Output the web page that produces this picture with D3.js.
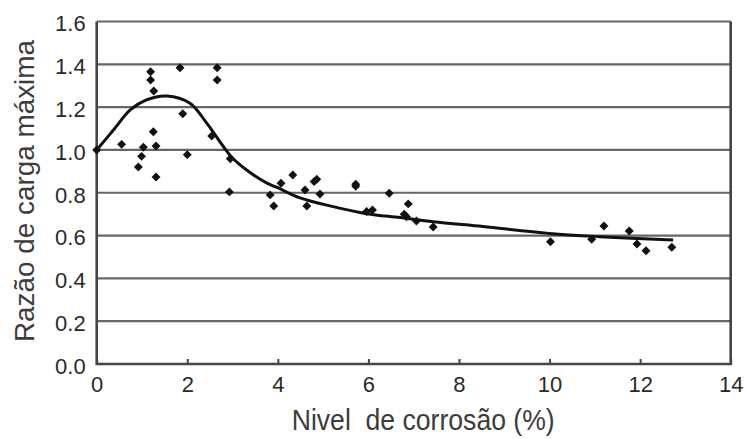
<!DOCTYPE html>
<html>
<head>
<meta charset="utf-8">
<script src="https://cdn.jsdelivr.net/npm/d3@7"></script>
<style>
  html, body { margin: 0; padding: 0; background: #fff; }
  svg { display: block; }
</style>
</head>
<body>
<svg id="chart" width="749" height="439"></svg>
<script>
// Measured specimens: corrosion level (%) and maximum-load ratio
const corrosion = [0, 0.55, 0.92, 0.99, 1.03, 1.19, 1.19, 1.26, 1.25, 1.31, 1.31,
  1.84, 1.90, 2.00, 2.54, 2.66, 2.66, 2.93, 2.95, 3.83, 3.91, 4.07, 4.33, 4.60,
  4.64, 4.80, 4.86, 4.93, 5.72, 5.72, 5.96, 6.09, 6.46, 6.79, 6.84, 6.88, 7.06,
  7.43, 10.02, 10.93, 11.20, 11.76, 11.93, 12.13, 12.70];
const loadRatio = [1.00, 1.026, 0.92, 0.97, 1.013, 1.365, 1.327, 1.275, 1.085, 1.018, 0.874,
  1.384, 1.169, 0.978, 1.065, 1.384, 1.327, 0.804, 0.959, 0.79, 0.738, 0.844, 0.883, 0.813,
  0.738, 0.852, 0.863, 0.794, 0.84, 0.83, 0.712, 0.72, 0.798, 0.70, 0.688, 0.748, 0.668,
  0.64, 0.571, 0.583, 0.645, 0.621, 0.561, 0.529, 0.545];

// Fitted trend curve
const trendX = [0, 0.37, 0.74, 1.1, 1.55, 2.06, 2.43, 2.8, 3.0, 3.31, 3.75, 3.97,
  4.49, 5.22, 5.96, 6.7, 7.43, 8.53, 10.0, 11.1, 12.73];
const trendY = [1.0, 1.093, 1.187, 1.234, 1.252, 1.218, 1.125, 1.015, 0.962, 0.906, 0.846, 0.826,
  0.776, 0.735, 0.702, 0.684, 0.665, 0.642, 0.61, 0.595, 0.579];

const xTicks = [0, 2, 4, 6, 8, 10, 12, 14];
const yTicks = [0, 0.2, 0.4, 0.6, 0.8, 1.0, 1.2, 1.4, 1.6];

const xTitle = "Nivel  de corrosão (%)";
const yTitle = "Razão de carga máxima";

const svg = d3.select("#chart");
const plot = { left: 96.7, right: 730.7, top: 21.5, bottom: 364 };

const x = d3.scaleLinear().domain([0, 14]).range([plot.left, plot.right]);
const y = d3.scaleLinear().domain([0, 1.6]).range([plot.bottom, plot.top]);

// Horizontal grid lines
svg.append("g")
  .selectAll("line")
  .data(yTicks.filter(v => v > 0))
  .join("line")
  .attr("x1", plot.left).attr("x2", plot.right)
  .attr("y1", d => y(d)).attr("y2", d => y(d))
  .attr("stroke", "#666")
  .attr("stroke-width", 2.2);

// Frame: left, bottom and right edges
svg.append("path")
  .attr("d", `M${plot.left},${plot.top} V${plot.bottom} H${plot.right} V${plot.top}`)
  .attr("fill", "none")
  .attr("stroke", "#454545")
  .attr("stroke-width", 2.6);

// X axis: inward ticks with labels underneath
const xAxis = d3.axisBottom(x)
  .tickValues(xTicks)
  .tickSize(-5)
  .tickPadding(12)
  .tickFormat(d3.format("d"));
const gx = svg.append("g")
  .attr("transform", `translate(0,${plot.bottom})`)
  .call(xAxis);
gx.select(".domain").remove();
gx.selectAll(".tick line").attr("stroke", "#454545").attr("stroke-width", 2);
gx.selectAll(".tick text")
  .attr("font-family", "'Liberation Sans', Arial, sans-serif")
  .attr("font-size", 22)
  .attr("fill", "#2a2a2a");

// Y axis labels
const yAxis = d3.axisLeft(y)
  .tickValues(yTicks)
  .tickSize(0)
  .tickPadding(11)
  .tickFormat(d3.format(".1f"));
const gy = svg.append("g")
  .attr("transform", `translate(${plot.left},0)`)
  .call(yAxis);
gy.select(".domain").remove();
gy.selectAll(".tick text")
  .attr("font-family", "'Liberation Sans', Arial, sans-serif")
  .attr("font-size", 22)
  .attr("fill", "#2a2a2a")
  .attr("dy", "0.42em");

// Trend curve
const line = d3.line()
  .x((d, i) => x(trendX[i]))
  .y((d, i) => y(trendY[i]))
  .curve(d3.curveCatmullRom.alpha(0.5));
svg.append("path")
  .attr("d", line(trendX))
  .attr("fill", "none")
  .attr("stroke", "#111")
  .attr("stroke-width", 3);

// Data points as diamonds
const diamond = d3.symbol(d3.symbolSquare, 40)();
svg.append("g")
  .selectAll("path")
  .data(corrosion.map((c, i) => [c, loadRatio[i]]))
  .join("path")
  .attr("d", diamond)
  .attr("transform", d => `translate(${x(d[0])},${y(d[1])}) rotate(45)`)
  .attr("fill", "#111");

// Axis titles
svg.append("text")
  .attr("x", 291.7).attr("y", 430)
  .attr("font-family", "'Liberation Sans', Arial, sans-serif")
  .attr("font-size", 30)
  .attr("fill", "#3c3c3c")
  .attr("textLength", 263)
  .attr("lengthAdjust", "spacingAndGlyphs")
  .style("white-space", "pre")
  .text(xTitle);

svg.append("text")
  .attr("transform", "translate(34,342) rotate(-90)")
  .attr("font-family", "'Liberation Sans', Arial, sans-serif")
  .attr("font-size", 28)
  .attr("fill", "#3c3c3c")
  .attr("textLength", 302)
  .attr("lengthAdjust", "spacingAndGlyphs")
  .text(yTitle);
</script>
</body>
</html>
